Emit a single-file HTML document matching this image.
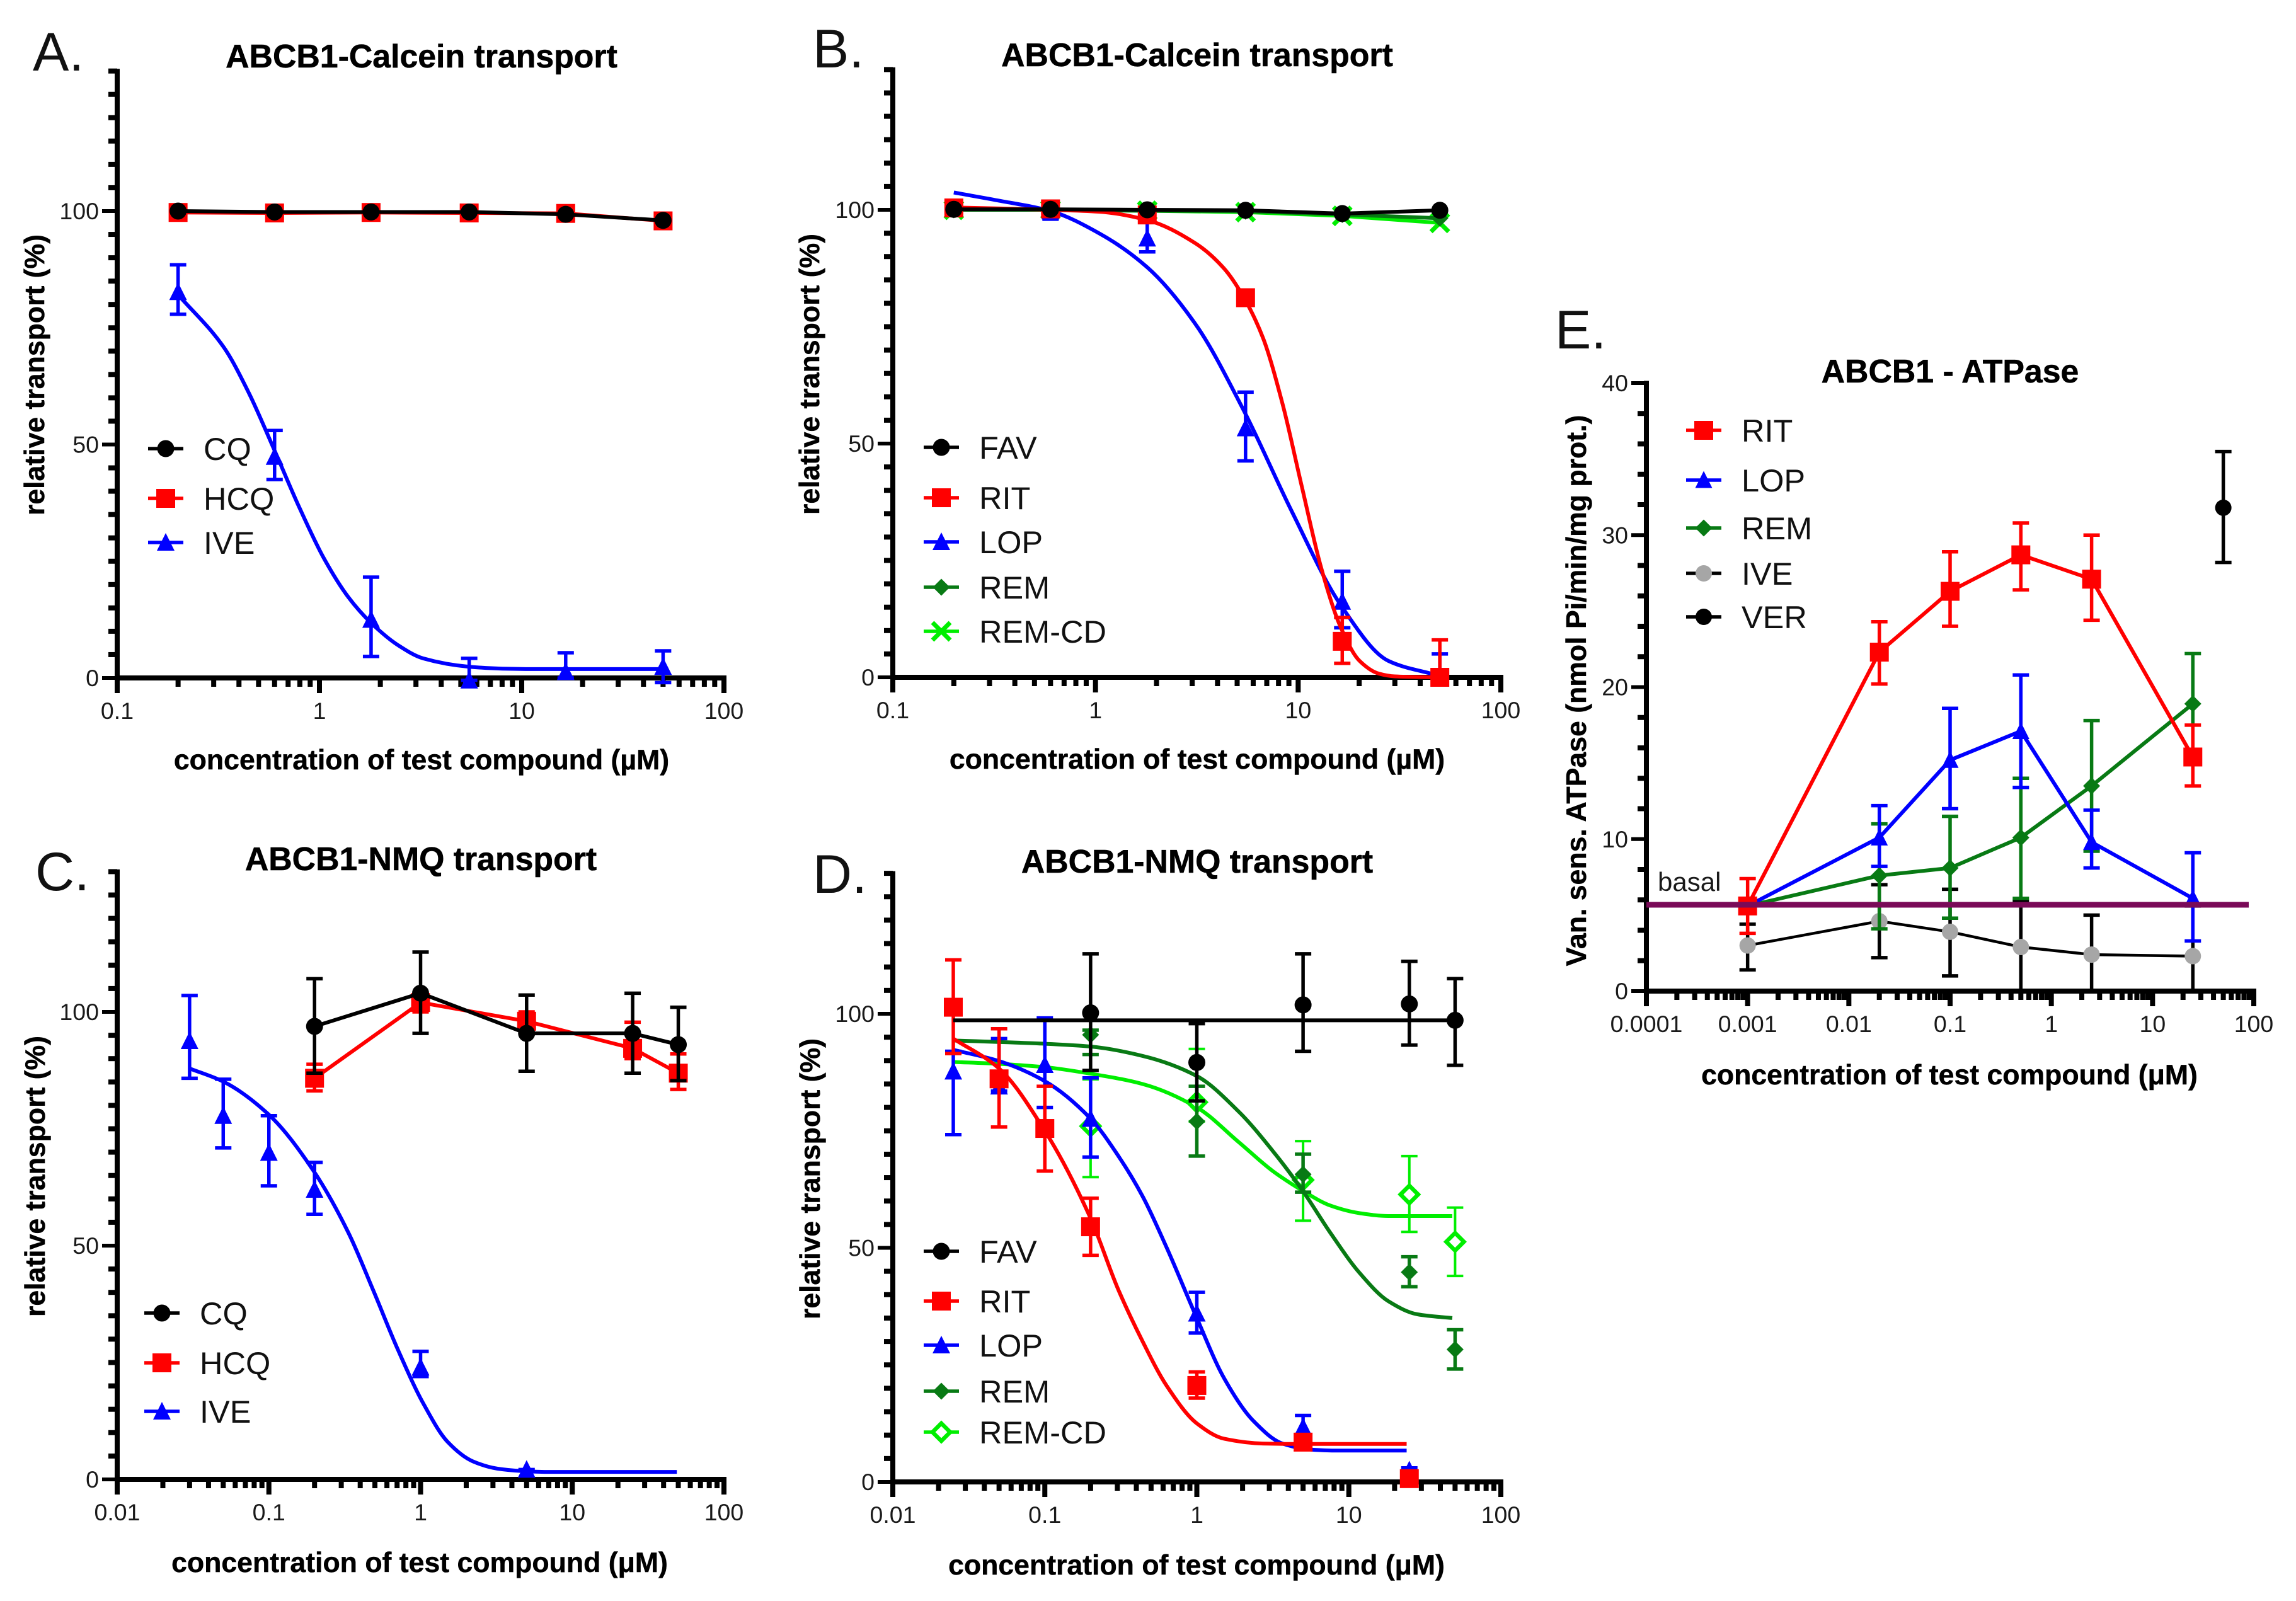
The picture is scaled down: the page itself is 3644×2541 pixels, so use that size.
<!DOCTYPE html>
<html lang="en">
<head>
<meta charset="utf-8">
<title>ABCB1 transport and ATPase charts</title>
<style>
html,body{margin:0;padding:0;background:#fff;width:3644px;height:2541px;overflow:hidden}
svg{display:block}
text{font-family:"Liberation Sans",sans-serif}
.panel-letter{font-size:86px;fill:#111}
.title{font-size:51.8px;font-weight:bold;text-anchor:middle;fill:#000;stroke:#000;stroke-width:.6px}
.axis-title{font-size:44.6px;font-weight:bold;text-anchor:middle;fill:#000;stroke:#000;stroke-width:.5px}
.tick{font-size:37.5px;fill:#1a1a1a}
.legend{font-size:50.5px;fill:#111}
</style>
</head>
<body>
<svg id="figure" xmlns="http://www.w3.org/2000/svg" width="3644" height="2541" viewBox="0 0 3644 2541">
<rect x="0" y="0" width="3644" height="2541" fill="#fff"/>

<text class="panel-letter" x="52" y="112">A.</text>
<text class="title" x="669" y="107">ABCB1-Calcein transport</text>
<text class="axis-title" x="669" y="1221">concentration of test compound (µM)</text>
<text class="axis-title" transform="translate(70 595) rotate(-90)">relative transport (%)</text>

<text class="panel-letter" x="1290" y="107">B.</text>
<text class="title" x="1900" y="105">ABCB1-Calcein transport</text>
<text class="axis-title" x="1900" y="1220">concentration of test compound (µM)</text>
<text class="axis-title" transform="translate(1300 594) rotate(-90)">relative transport (%)</text>

<text class="panel-letter" x="56" y="1413">C.</text>
<text class="title" x="668" y="1381">ABCB1-NMQ transport</text>
<text class="axis-title" x="666" y="2495">concentration of test compound (μM)</text>
<text class="axis-title" transform="translate(71 1867) rotate(-90)">relative transport (%)</text>

<text class="panel-letter" x="1290" y="1417">D.</text>
<text class="title" x="1900" y="1385">ABCB1-NMQ transport</text>
<text class="axis-title" x="1899" y="2499">concentration of test compound (μM)</text>
<text class="axis-title" transform="translate(1301 1871) rotate(-90)">relative transport (%)</text>

<text class="panel-letter" x="2468" y="553">E.</text>
<text class="title" x="3095" y="607">ABCB1 - ATPase</text>
<text class="axis-title" x="3094" y="1721">concentration of test compound (μM)</text>
<text class="axis-title" transform="translate(2517 1096) rotate(-90)">Van. sens. ATPase (nmol Pi/min/mg prot.)</text>
<text x="2631" y="1414" font-size="42" fill="#1a1a1a">basal</text>
</svg>

<script>
/* ---------- Panel A ---------- */
const aDoses = [0.2, 0.6, 1.8, 5.5, 16.5, 50];
const aXTicks = ['0.1', '1', '10', '100'];
const aYTicks = ['0', '50', '100'];
const aCQ = [100, 99.8, 99.8, 99.8, 99.3, 98];
const aHCQ = [99.7, 99.6, 99.7, 99.6, 99.5, 97.9];
const aIVE = [82.7, 47.4, 12.5, -0.5, 1.3, 2.4];
const aIVEHi = [88.5, 53, 21.6, 4.2, 5.4, 5.8];
const aIVELo = [77.9, 42.5, 4.6, -0.5, 0, -1];
const aIVECurveX = [0.2, 0.338, 0.448, 0.6, 0.79, 1.05, 1.39, 1.8, 2.45, 3.25, 5.5, 8, 12, 50];
const aIVECurveY = [82.1, 70.7, 61, 48.7, 36.8, 25.7, 17.3, 11.8, 7, 4.2, 2.4, 2.0, 1.9, 1.9];

/* ---------- Panel B ---------- */
const bDoses = [0.2, 0.6, 1.8, 5.5, 16.5, 50];
const bXTicks = ['0.1', '1', '10', '100'];
const bYTicks = ['0', '50', '100'];
const bFAV = [100.1, 100.1, 100, 99.9, 99.2, 99.9];
const bRIT = [100.4, 100.2, 98.9, 81.2, 7.7, 0];
const bRITHi = [101, 101, 100, 82.5, 12.8, 8];
const bRITLo = [99.8, 99.4, 97.8, 80, 3, 0];
const bLOP = [100.2, 99.7, 93.9, 53.3, 16.2, 0.2];
const bLOPHi = [100.8, 100.4, 98.5, 61, 22.7, 5];
const bLOPLo = [99.6, 98, 91, 46.3, 10.6, 0];
const bREM = [100, 100, 99.8, 99.7, 99, 98.2];
const bREMCD = [100, 100, 99.8, 99.5, 98.7, 97.2];
const bRITCurveX = [0.2, 0.6, 1.04, 1.8, 3.12, 4.3, 5.4, 6.72, 8.37, 10.4, 12.97, 16.1, 20.1, 25, 30, 48];
const bRITCurveY = [100.5, 100, 99.6, 97.8, 92.8, 87.5, 81.2, 72.5, 58.5, 41, 23.5, 11, 3.5, 0.8, 0.2, 0];
const bLOPCurveX = [0.2, 0.33, 0.604, 1.04, 1.8, 3.12, 5.4, 9.3, 16.2, 27.9, 48];
const bLOPCurveY = [103.7, 102, 99.7, 95, 87.7, 75.5, 57, 35.5, 15.5, 3.5, 0.5];

/* ---------- Panel C ---------- */
const cDosesQ = [0.2, 1, 5, 25, 50];
const cDosesIVE = [0.03, 0.05, 0.1, 0.2, 1, 5];
const cXTicks = ['0.01', '0.1', '1', '10', '100'];
const cYTicks = ['0', '50', '100'];
const cCQ = [96.9, 104, 95.4, 95.4, 93];
const cCQHi = [107.1, 112.8, 103.6, 104, 101];
const cCQLo = [86.9, 95.4, 87.3, 86.9, 85.3];
const cHCQ = [85.8, 102, 98, 92.2, 86.9];
const cHCQHi = [88.8, 103.5, 100, 97.8, 91];
const cHCQLo = [83.1, 100, 96, 90, 83.4];
const cIVE = [93.8, 77.8, 69.9, 62, 24, 2.1];
const cIVEHi = [103.5, 85.6, 77.8, 67.8, 27.4, 2.1];
const cIVELo = [85.8, 70.9, 62.8, 56.7, 22, 2.1];
const cIVECurveX = [0.03, 0.0507, 0.1, 0.197, 0.335, 0.488, 0.712, 1.04, 1.51, 2.2, 3.2, 4.6, 6.8, 48.9];
const cIVECurveY = [87.9, 85, 78, 66, 52.7, 40.4, 27.6, 16.3, 8, 3.9, 2.3, 1.8, 1.6, 1.6];

/* ---------- Panel D ---------- */
const dDosesFAV = [0.2, 1, 5, 25, 50];
const dDosesRIT = [0.025, 0.05, 0.1, 0.2, 1, 5, 25];
const dXTicks = ['0.01', '0.1', '1', '10', '100'];
const dYTicks = ['0', '50', '100'];
const dFAV = [100.2, 89.6, 101.9, 102.1, 98.6];
const dFAVHi = [112.8, 97.9, 112.8, 111.2, 107.5];
const dFAVLo = [87.9, 81.4, 92, 93.3, 89];
const dFAVCurveX = [0.025, 50];
const dFAVCurveY = [98.6, 98.6];
const dRIT = [101.4, 86.1, 75.5, 54.5, 20.6, 8.5, 0.7];
const dRITHi = [111.5, 96.8, 84.5, 60.6, 23.5, 9.5, 1];
const dRITLo = [91.5, 75.8, 66.4, 48.4, 17.9, 7.5, 0.5];
const dRITCurveX = [0.025, 0.05, 0.1, 0.2, 0.305, 0.44, 0.634, 1, 1.52, 2.73, 4.5, 24];
const dRITCurveY = [94.7, 88.3, 75, 56.3, 41, 30, 20.5, 12.5, 9.2, 8.2, 8.1, 8.1];
const dLOP = [87.7, 84.5, 89.1, 77.6, 36, 11.7, 2.5];
const dLOPHi = [92, 94.7, 99.1, 86.3, 40.5, 14.2, 3];
const dLOPLo = [74.2, 83.5, 80, 69.4, 31.8, 9, 1];
const dLOPCurveX = [0.025, 0.05, 0.1, 0.2, 0.305, 0.44, 0.634, 1, 1.52, 2.36, 3.66, 5.67, 8, 24];
const dLOPCurveY = [92.3, 89.9, 85.6, 77.6, 69.6, 61, 50, 35, 22, 13, 8.2, 6.9, 6.7, 6.7];
const dDosesREM = [0.2, 1, 5, 25, 50];
const dREM = [95.5, 77, 65.7, 44.8, 28.3];
const dREMHi = [96.5, 84.5, 70, 48.1, 32.5];
const dREMLo = [91.3, 69.6, 61.9, 41.7, 24.1];
const dREMCurveX = [0.025, 0.1, 0.2, 0.44, 1, 1.9, 3.16, 4.97, 7.6, 11.8, 18.2, 28.3, 47.9];
const dREMCurveY = [94.3, 93.6, 93, 91, 86.7, 79, 70.7, 62.2, 53.1, 44.6, 38.6, 35.8, 35];
const dREMCD = [76, 81.1, 64.5, 61.4, 51.3];
const dREMCDHi = [86, 92.5, 72.8, 69.6, 58.6];
const dREMCDLo = [65.1, 77, 55.8, 53.4, 44];
const dREMCDCurveX = [0.025, 0.05, 0.1, 0.2, 0.44, 1, 1.9, 3.16, 4.97, 7.6, 11.8, 18.2, 47.9];
const dREMCDCurveY = [89.7, 89.3, 88.6, 87.2, 85, 80, 72.5, 66.4, 62.2, 59, 57.4, 56.8, 56.8];

/* ---------- Panel E ---------- */
const eDoses = [0.001, 0.02, 0.1, 0.5, 2.5, 25];
const eXTicks = ['0.0001', '0.001', '0.01', '0.1', '1', '10', '100'];
const eYTicks = ['0', '10', '20', '30', '40'];
const eRIT = [5.6, 22.3, 26.3, 28.7, 27.1, 15.4];
const eRITHi = [7.4, 24.3, 28.9, 30.8, 30, 17.5];
const eRITLo = [3.8, 20.2, 24, 26.4, 24.4, 13.5];
const eLOP = [5.6, 10.1, 15.2, 17.1, 9.8, 6.1];
const eLOPHi = [5.6, 12.2, 18.6, 20.8, 11.9, 9.1];
const eLOPLo = [5.6, 8.2, 12, 13.4, 8.1, 3.3];
const eREM = [5.6, 7.6, 8.1, 10.1, 13.5, 18.9];
const eREMHi = [5.6, 11, 11.5, 14, 17.8, 22.2];
const eREMLo = [5.6, 4.1, 4.8, 6.1, 9.2, 15.5];
const eIVE = [3, 4.6, 3.9, 2.9, 2.4, 2.3];
const eIVEHi = [4.4, 7, 6.7, 5.9, 5, 5.6];
const eIVELo = [1.4, 2.2, 1, 0, 0, 0];
const eDosesVER = [50];
const eVER = [31.8];
const eVERHi = [35.5];
const eVERLo = [28.2];
const eBasal = [5.68];

/* ---------- Styling ---------- */
const BLACK = '#000000', RED = '#ff0000', BLUE = '#0000ff', GREEN = '#087a14', LIME = '#00ee00', GREY = '#a6a6a6', PURPLE = '#7a0a58';
const NS = 'http://www.w3.org/2000/svg';
const root = document.getElementById('figure');

function make(tag, attrs, parent) {
  const el = document.createElementNS(NS, tag);
  for (const k in attrs) el.setAttribute(k, attrs[k]);
  parent.appendChild(el);
  return el;
}

/* Monotone cubic interpolation through points ordered by x */
function smoothPath(pts) {
  const f = v => v.toFixed(1);
  if (pts.length < 3) return 'M' + pts.map(p => f(p[0]) + ' ' + f(p[1])).join('L');
  const n = pts.length, h = [], s = [], m = [];
  for (let i = 0; i < n - 1; i++) {
    h[i] = pts[i + 1][0] - pts[i][0];
    s[i] = (pts[i + 1][1] - pts[i][1]) / h[i];
  }
  m[0] = s[0];
  m[n - 1] = s[n - 2];
  for (let i = 1; i < n - 1; i++) {
    if (s[i - 1] * s[i] <= 0) { m[i] = 0; continue; }
    const w1 = 2 * h[i] + h[i - 1], w2 = h[i] + 2 * h[i - 1];
    m[i] = (w1 + w2) / (w1 / s[i - 1] + w2 / s[i]);
  }
  let d = 'M' + f(pts[0][0]) + ' ' + f(pts[0][1]);
  for (let i = 0; i < n - 1; i++) {
    const d3 = h[i] / 3;
    d += 'C' + f(pts[i][0] + d3) + ' ' + f(pts[i][1] + m[i] * d3) + ' ' +
      f(pts[i + 1][0] - d3) + ' ' + f(pts[i + 1][1] - m[i + 1] * d3) + ' ' +
      f(pts[i + 1][0]) + ' ' + f(pts[i + 1][1]);
  }
  return d;
}

function drawMarker(kind, cx, cy, color, size, parent, name) {
  let el;
  const h = size / 2;
  if (kind === 'circle') {
    el = make('circle', {cx: cx, cy: cy, r: h, fill: color}, parent);
  } else if (kind === 'square') {
    el = make('rect', {x: cx - h, y: cy - h, width: size, height: size, fill: color}, parent);
  } else if (kind === 'triangle') {
    el = make('polygon', {points: cx + ',' + (cy - h - 1) + ' ' + (cx + h) + ',' + (cy + h - 1) + ' ' + (cx - h) + ',' + (cy + h - 1), fill: color}, parent);
  } else if (kind === 'diamond') {
    el = make('polygon', {points: cx + ',' + (cy - h) + ' ' + (cx + h) + ',' + cy + ' ' + cx + ',' + (cy + h) + ' ' + (cx - h) + ',' + cy, fill: color}, parent);
  } else if (kind === 'open-diamond') {
    el = make('polygon', {points: cx + ',' + (cy - h) + ' ' + (cx + h) + ',' + cy + ' ' + cx + ',' + (cy + h) + ' ' + (cx - h) + ',' + cy, fill: '#fff', stroke: color, 'stroke-width': 6.5}, parent);
  } else {
    el = make('path', {d: 'M' + (cx - h) + ' ' + (cy - h) + 'L' + (cx + h) + ' ' + (cy + h) + 'M' + (cx + h) + ' ' + (cy - h) + 'L' + (cx - h) + ' ' + (cy + h), stroke: color, 'stroke-width': 7, fill: 'none'}, parent);
  }
  
  
  return el;
}

function drawPanel(p) {
  const g = make('g', {}, root);
  
  

  const logMin = Math.log10(Number(p.xTicks[0]));
  const logMax = Math.log10(Number(p.xTicks[p.xTicks.length - 1]));
  const xScale = v => p.left + (Math.log10(v) - logMin) / (logMax - logMin) * (p.right - p.left);
  const yScale = v => p.y0 - v * p.pxPerUnit;

  /* axes */
  const yTop = yScale(p.yMax) - 3.5;
  const yAxis = make('line', {x1: p.left, x2: p.left, y1: yTop, y2: p.y0 + 24, stroke: '#000', 'stroke-width': 8}, g);
  
  
  const xAxis = make('line', {x1: p.left - 4, x2: p.right + 4, y1: p.y0, y2: p.y0, stroke: '#000', 'stroke-width': 8}, g);
  
  

  for (let v = 0; v <= p.yMax + 1e-6; v += p.yMinor) {
    const major = p.yTicks.indexOf(String(v)) >= 0;
    const tick = make('line', {x1: p.left - (major ? 24 : 14), x2: p.left, y1: yScale(v), y2: yScale(v), stroke: '#000', 'stroke-width': major ? 6 : 8}, g);
    
    
  }
  p.yTicks.forEach(label => {
    const t = make('text', {x: p.left - 29, y: yScale(Number(label)) + 13, 'text-anchor': 'end', class: 'tick'}, g);
    t.textContent = label;
    
    
  });
  p.xTicks.forEach((label, i) => {
    const dec = Number(label);
    const major = make('line', {x1: xScale(dec), x2: xScale(dec), y1: p.y0, y2: p.y0 + 24, stroke: '#000', 'stroke-width': 8}, g);
    
    
    const t = make('text', {x: xScale(dec), y: p.y0 + 65, 'text-anchor': 'middle', class: 'tick'}, g);
    t.textContent = label;
    
    
    if (i < p.xTicks.length - 1) {
      for (let m = 2; m < 10; m++) {
        const minor = make('line', {x1: xScale(dec * m), x2: xScale(dec * m), y1: p.y0, y2: p.y0 + 14, stroke: '#000', 'stroke-width': 8}, g);
        
        
      }
    }
  });

  /* series: drawn back-to-front */
  p.series.slice().reverse().forEach(s => {
    const sg = make('g', {}, g);
    
    
    const lineColor = s.lineColor || s.color;
    const barColor = s.lineColor || s.color;
    if (s.curveX) {
      const pts = s.curveX.map((x, i) => [xScale(x), yScale(s.curveY[i])]);
      const c = make('path', {d: smoothPath(pts), fill: 'none', stroke: lineColor, 'stroke-width': s.lw || 6}, sg);
      
      
    } else if (s.connect !== false) {
      const pts = s.xs.map((x, i) => xScale(x) + ',' + yScale(s.ys[i])).join(' ');
      const c = make('polyline', {points: pts, fill: 'none', stroke: lineColor, 'stroke-width': s.lw || 6}, sg);
      
      
    }
    if (s.hi) {
      s.xs.forEach((x, i) => {
        const px = xScale(x);
        const path = 'M' + px + ' ' + yScale(s.hi[i]) + 'L' + px + ' ' + yScale(s.lo[i]) +
          'M' + (px - 13) + ' ' + yScale(s.hi[i]) + 'L' + (px + 13) + ' ' + yScale(s.hi[i]) +
          'M' + (px - 13) + ' ' + yScale(s.lo[i]) + 'L' + (px + 13) + ' ' + yScale(s.lo[i]);
        const e = make('path', {d: path, fill: 'none', stroke: barColor, 'stroke-width': s.barW || 5.5}, sg);
        
        
      });
    }
    s.xs.forEach((x, i) => {
      drawMarker(s.marker, xScale(x), yScale(s.ys[i]), s.color, s.size, sg, 'data-point');
    });
  });

  /* reference line */
  if (p.basal) {
    const b = make('line', {x1: p.left, x2: p.right - 8, y1: yScale(p.basal[0]), y2: yScale(p.basal[0]), stroke: PURPLE, 'stroke-width': 9}, g);
    
    
  }

  /* legend */
  p.series.forEach((s, i) => {
    const entry = make('g', {}, g);
    
    
    const ly = p.legendY[i];
    const swatch = make('line', {x1: p.legendX, x2: p.legendX + 56, y1: ly, y2: ly, stroke: s.lineColor || s.color, 'stroke-width': 5.5}, entry);
    
    
    drawMarker(s.marker, p.legendX + 28, ly, s.color, s.size, entry, 'legend-marker');
    const t = make('text', {x: p.legendX + 88, y: ly + 18, class: 'legend'}, entry);
    t.textContent = s.name;
    
    
  });
}

drawPanel({
  id: 'a', left: 186, right: 1149, y0: 1076, pxPerUnit: 7.41, yMax: 130, yMinor: 5,
  xTicks: aXTicks, yTicks: aYTicks, legendX: 235, legendY: [712, 791, 861],
  series: [
    {name: 'CQ', color: BLACK, marker: 'circle', size: 27, xs: aDoses, ys: aCQ},
    {name: 'HCQ', color: RED, marker: 'square', size: 30, xs: aDoses, ys: aHCQ},
    {name: 'IVE', color: BLUE, marker: 'triangle', size: 28, xs: aDoses, ys: aIVE, hi: aIVEHi, lo: aIVELo, curveX: aIVECurveX, curveY: aIVECurveY}
  ]
});

drawPanel({
  id: 'b', left: 1417, right: 2382, y0: 1075, pxPerUnit: 7.42, yMax: 130, yMinor: 5,
  xTicks: bXTicks, yTicks: bYTicks, legendX: 1466, legendY: [710, 790, 860, 932, 1002],
  series: [
    {name: 'FAV', color: BLACK, marker: 'circle', size: 27, xs: bDoses, ys: bFAV},
    {name: 'RIT', color: RED, marker: 'square', size: 30, xs: bDoses, ys: bRIT, hi: bRITHi, lo: bRITLo, curveX: bRITCurveX, curveY: bRITCurveY},
    {name: 'LOP', color: BLUE, marker: 'triangle', size: 28, xs: bDoses, ys: bLOP, hi: bLOPHi, lo: bLOPLo, curveX: bLOPCurveX, curveY: bLOPCurveY},
    {name: 'REM', color: GREEN, marker: 'diamond', size: 27, xs: bDoses, ys: bREM},
    {name: 'REM-CD', color: LIME, marker: 'cross', size: 28, xs: bDoses, ys: bREMCD}
  ]
});

drawPanel({
  id: 'c', left: 186, right: 1149, y0: 2348, pxPerUnit: 7.42, yMax: 130, yMinor: 5,
  xTicks: cXTicks, yTicks: cYTicks, legendX: 229, legendY: [2084, 2163, 2240],
  series: [
    {name: 'CQ', color: BLACK, marker: 'circle', size: 27, xs: cDosesQ, ys: cCQ, hi: cCQHi, lo: cCQLo},
    {name: 'HCQ', color: RED, marker: 'square', size: 30, xs: cDosesQ, ys: cHCQ, hi: cHCQHi, lo: cHCQLo},
    {name: 'IVE', color: BLUE, marker: 'triangle', size: 28, xs: cDosesIVE, ys: cIVE, hi: cIVEHi, lo: cIVELo, curveX: cIVECurveX, curveY: cIVECurveY}
  ]
});

drawPanel({
  id: 'd', left: 1417, right: 2382, y0: 2352, pxPerUnit: 7.43, yMax: 130, yMinor: 5,
  xTicks: dXTicks, yTicks: dYTicks, legendX: 1466, legendY: [1986, 2065, 2135, 2208, 2273],
  series: [
    {name: 'FAV', color: BLACK, marker: 'circle', size: 27, xs: dDosesFAV, ys: dFAV, hi: dFAVHi, lo: dFAVLo, curveX: dFAVCurveX, curveY: dFAVCurveY},
    {name: 'RIT', color: RED, marker: 'square', size: 30, xs: dDosesRIT, ys: dRIT, hi: dRITHi, lo: dRITLo, curveX: dRITCurveX, curveY: dRITCurveY},
    {name: 'LOP', color: BLUE, marker: 'triangle', size: 28, xs: dDosesRIT, ys: dLOP, hi: dLOPHi, lo: dLOPLo, curveX: dLOPCurveX, curveY: dLOPCurveY},
    {name: 'REM', color: GREEN, marker: 'diamond', size: 27, xs: dDosesREM, ys: dREM, hi: dREMHi, lo: dREMLo, curveX: dREMCurveX, curveY: dREMCurveY},
    {name: 'REM-CD', color: LIME, marker: 'open-diamond', size: 28, xs: dDosesREM, ys: dREMCD, hi: dREMCDHi, lo: dREMCDLo, curveX: dREMCDCurveX, curveY: dREMCDCurveY, barW: 4}
  ]
});

drawPanel({
  id: 'e', left: 2613, right: 3577, y0: 1573, pxPerUnit: 24.125, yMax: 40, yMinor: 2,
  xTicks: eXTicks, yTicks: eYTicks, legendX: 2676, legendY: [683, 762, 838, 910, 979], basal: eBasal,
  series: [
    {name: 'RIT', color: RED, marker: 'square', size: 30, xs: eDoses, ys: eRIT, hi: eRITHi, lo: eRITLo},
    {name: 'LOP', color: BLUE, marker: 'triangle', size: 27, xs: eDoses, ys: eLOP, hi: eLOPHi, lo: eLOPLo},
    {name: 'REM', color: GREEN, marker: 'diamond', size: 27, xs: eDoses, ys: eREM, hi: eREMHi, lo: eREMLo},
    {name: 'IVE', color: GREY, lineColor: BLACK, marker: 'circle', size: 26, lw: 4.5, xs: eDoses, ys: eIVE, hi: eIVEHi, lo: eIVELo},
    {name: 'VER', color: BLACK, marker: 'circle', size: 26, connect: false, xs: eDosesVER, ys: eVER, hi: eVERHi, lo: eVERLo}
  ]
});
</script>
</body>
</html>
